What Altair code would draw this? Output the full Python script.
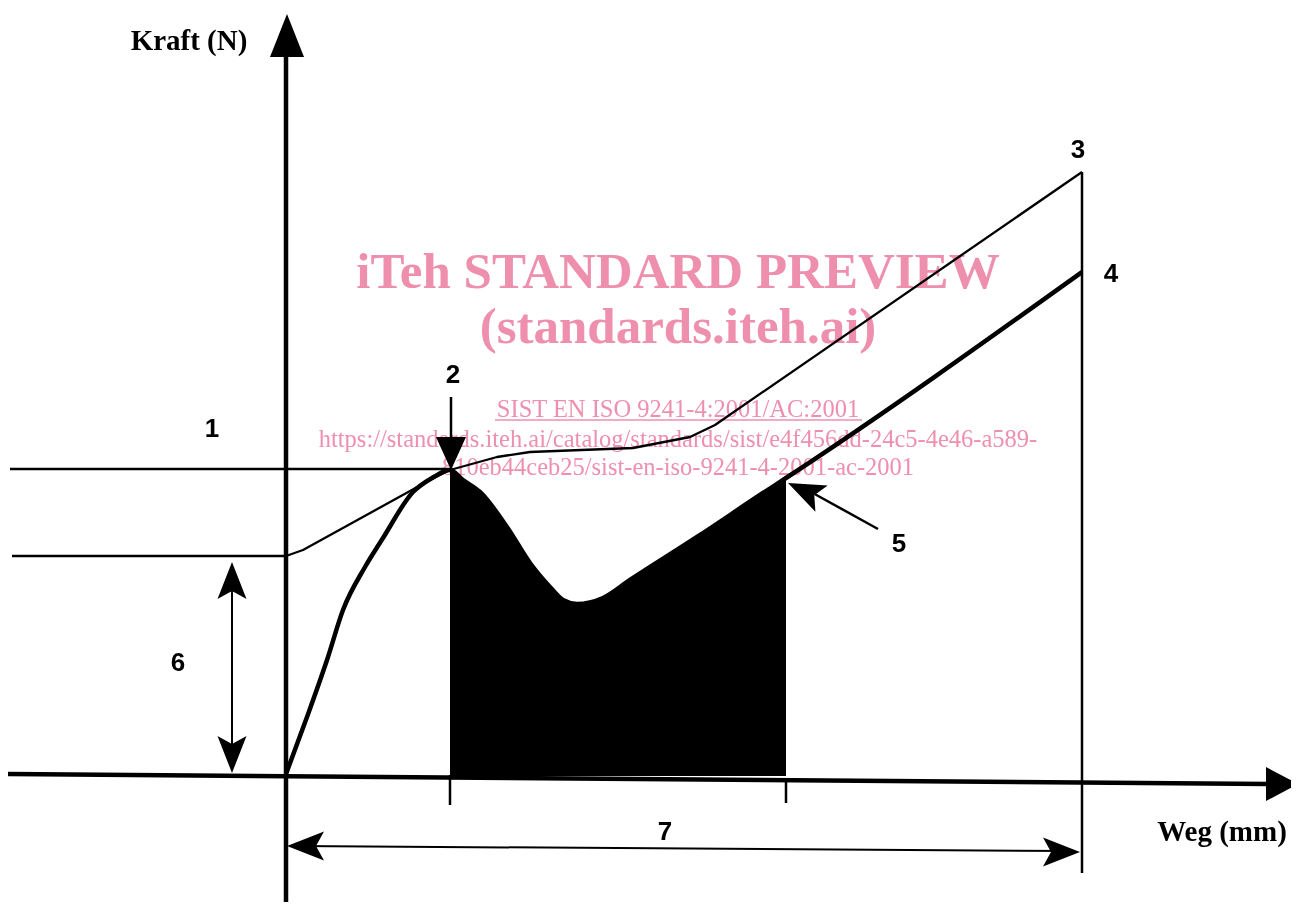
import altair as alt
import pandas as pd

# Drawing units: "weg" to the right of the force axis, "kraft" above the travel axis
WEG_DOMAIN = [-278, 1005]
KRAFT_DOMAIN = [-127, 767]

# Curve 4 (thick measured curve)
curve4_weg = [0, 21, 41, 57, 79, 97, 127, 146, 164, 177, 194, 221, 244, 264, 277, 291, 317, 344, 411, 477, 500, 796]
curve4_kraft = [1, 58, 115, 165, 208, 237, 283, 297, 305, 295, 283, 248, 212, 188, 175, 171, 177, 195, 238, 282, 297, 503]

# Curve 3 (thin limit curve)
curve3_weg = [0, 17, 144, 164, 211, 244, 347, 404, 429, 796]
curve3_kraft = [219, 225, 295, 305, 318, 323, 327, 338, 350, 603]

# shaded work region (between marks 2 and 5)
area_start, area_end = 164, 500

# axes
axes_x1 = [0, -290]
axes_y1 = [718, 1]
axes_x2 = [0, 982]
axes_y2 = [-140, -9]

# thin straight segments: level 1, level 6, end line, ticks, arrow shafts 2 and 5
thin_x1 = [-276, -274, 796, 164, 500, 165, 592]
thin_y1 = [306, 219, 603, 0, -3, 378, 246]
thin_x2 = [164, 0, 796, 164, 500, 165, 525]
thin_y2 = [306, 219, -98, -30, -28, 338, 283]

# dimension arrow shafts 6 and 7
dim_x1 = [-54, 10]
dim_y1 = [205, -71]
dim_x2 = [-54, 785]
dim_y2 = [10, -76]

# arrow heads: tip position, direction (deg clockwise from up), kind
head_weg = [1, 1012, 165, 502, -54, -54, 1, 794]
head_kraft = [761, -9, 305, 292, 213, 2, -71, -77]
head_dir = [0, 90, 180, 295, 0, 180, 270, 90]
head_kind = ["yaxis", "xaxis", "drop", "barb", "barb", "barb", "barb", "barb"]

# number labels
num_text = ["1", "2", "3", "4", "5", "6", "7"]
num_weg = [-74, 167, 792, 825, 613, -108, 379]
num_kraft = [338, 392, 617, 493, 223, 104, -65]

# axis titles
title_text = ["Kraft (N)", "Weg (mm)"]
title_weg = [-97, 936]
title_kraft = [725, -66]

# watermark
wm_big_text = ["iTeh STANDARD PREVIEW", "(standards.iteh.ai)"]
wm_big_kraft = [487, 432]
wm_small_text = [
    "SIST EN ISO 9241-4:2001/AC:2001",
    "https://standards.iteh.ai/catalog/standards/sist/e4f456dd-24c5-4e46-a589-",
    "810eb44ceb25/sist-en-iso-9241-4-2001-ac-2001",
]
wm_small_kraft = [358, 328, 300]
wm_center = 392
wm_underline = [209, 576, 355]

PINK = "#ee8fad"

xs = alt.Scale(domain=WEG_DOMAIN, nice=False, zero=False)
ys = alt.Scale(domain=KRAFT_DOMAIN, nice=False, zero=False)


def X(f):
    return alt.X(f"{f}:Q", scale=xs, axis=None)


def Y(f):
    return alt.Y(f"{f}:Q", scale=ys, axis=None)


c4 = pd.DataFrame({"weg": curve4_weg, "kraft": curve4_kraft, "i": range(len(curve4_weg))})
c3 = pd.DataFrame({"weg": curve3_weg, "kraft": curve3_kraft, "i": range(len(curve3_weg))})
area_df = c4[(c4.weg >= area_start) & (c4.weg <= area_end)]

area = alt.Chart(area_df).mark_area(color="black", opacity=1, interpolate="monotone").encode(
    x=X("weg"), y=Y("kraft"), y2=alt.Y2(datum=-1)
)

line4 = alt.Chart(c4).mark_line(color="black", strokeWidth=4.5, strokeJoin="round", interpolate="monotone").encode(
    x=X("weg"), y=Y("kraft"), order="i:Q"
)
line3 = alt.Chart(c3).mark_line(color="black", strokeWidth=2.3, strokeJoin="round").encode(
    x=X("weg"), y=Y("kraft"), order="i:Q"
)


def segs(x1, y1, x2, y2, width):
    df = pd.DataFrame({"x1": x1, "y1": y1, "x2": x2, "y2": y2})
    return alt.Chart(df).mark_rule(color="black", strokeWidth=width).encode(
        x=X("x1"), y=Y("y1"), x2="x2:Q", y2="y2:Q"
    )


axes = segs(axes_x1, axes_y1, axes_x2, axes_y2, 4.5)
thin = segs(thin_x1, thin_y1, thin_x2, thin_y2, 2.5)
dims = segs(dim_x1, dim_y1, dim_x2, dim_y2, 2)

heads_df = pd.DataFrame({"weg": head_weg, "kraft": head_kraft, "dir": head_dir, "kind": head_kind})
head_kinds = ["yaxis", "xaxis", "drop", "barb"]
head_paths = [
    "M0,0L1.7,4.3L-1.7,4.3Z",
    "M0,0L1.7,3.2L-1.7,3.2Z",
    "M0,0L1.5,3.3L-1.5,3.3Z",
    "M0,0L1.45,3.7L0,2.9L-1.45,3.7Z",
]
heads = alt.Chart(heads_df).mark_point(
    filled=True, size=400, color="black", opacity=1, strokeWidth=0
).encode(
    x=X("weg"),
    y=Y("kraft"),
    shape=alt.Shape("kind:N", scale=alt.Scale(domain=head_kinds, range=head_paths), legend=None),
    angle=alt.Angle("dir:Q", scale=None),
)

nums = alt.Chart(pd.DataFrame({"t": num_text, "weg": num_weg, "kraft": num_kraft})).mark_text(
    font="Liberation Sans", fontSize=26, fontWeight="bold", color="black",
    align="center", baseline="alphabetic"
).encode(x=X("weg"), y=Y("kraft"), text="t:N")

titles = alt.Chart(pd.DataFrame({"t": title_text, "weg": title_weg, "kraft": title_kraft})).mark_text(
    font="Liberation Serif", fontSize=29, fontWeight="bold", color="black",
    align="center", baseline="alphabetic"
).encode(x=X("weg"), y=Y("kraft"), text="t:N")

wm_big = alt.Chart(pd.DataFrame({"t": wm_big_text, "weg": [wm_center] * 2, "kraft": wm_big_kraft})).mark_text(
    font="Liberation Serif", fontSize=51, fontWeight="bold", color=PINK,
    align="center", baseline="alphabetic", blend="multiply"
).encode(x=X("weg"), y=Y("kraft"), text="t:N")

wm_small = alt.Chart(pd.DataFrame({"t": wm_small_text, "weg": [wm_center] * 3, "kraft": wm_small_kraft})).mark_text(
    font="Liberation Serif", fontSize=24.5, color=PINK,
    align="center", baseline="alphabetic", blend="multiply"
).encode(x=X("weg"), y=Y("kraft"), text="t:N")

underline = alt.Chart(pd.DataFrame({"x1": [wm_underline[0]], "x2": [wm_underline[1]], "y": [wm_underline[2]]})).mark_rule(
    color=PINK, strokeWidth=1.5, blend="multiply"
).encode(x=X("x1"), x2="x2:Q", y=Y("y"))

chart = alt.layer(
    area, line3, line4, axes, thin, dims, heads, nums, titles, wm_big, wm_small, underline
).properties(
    width=1283,
    height=894,
    padding=0,
    autosize=alt.AutoSizeParams(type="none"),
    background="white",
).configure_view(stroke=None)

chart.save("out.html", embed_options={"renderer": "svg", "actions": False})
